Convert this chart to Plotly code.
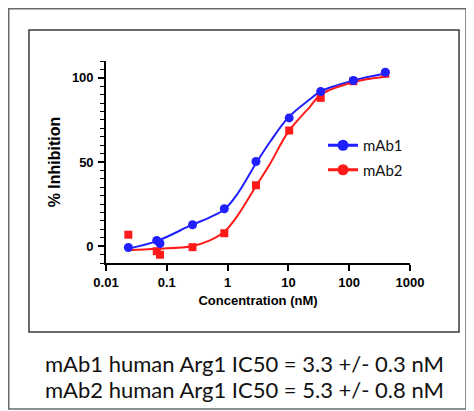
import plotly.graph_objects as go

# ---- data ----
conc = [0.0233, 0.0683, 0.0773, 0.265, 0.883, 2.93, 10.3, 34, 117, 393]
mab1 = [-0.8, 3.4, 1.6, 12.7, 22.2, 50.3, 76.2, 91.9, 98.4, 103.3]
mab2 = [6.8, -3.0, -5.1, -0.6, 7.7, 36.2, 68.7, 88.1, 98.0, 102.4]

curve_x = [0.0233, 0.0683, 0.257, 0.5, 0.883, 1.45, 2.97, 5, 10, 22.6, 34, 117, 393]
curve_mab1 = [-1.4, 3.0, 12.6, 17.0, 21.8, 31.0, 49.5, 62.0, 76.5, 87.3, 92.0, 98.4, 102.6]
curve_mab2 = [-2.4, -1.5, 0.0, 3.3, 8.6, 18.0, 36.0, 49.0, 68.0, 82.8, 90.0, 97.4, 100.6]

x_ticks = [0.01, 0.1, 1, 10, 100, 1000]
x_ticklabels = ["0.01", "0.1", "1", "10", "100", "1000"]
y_ticks = [0, 50, 100]

names = ["mAb1", "mAb2"]
captions = ["mAb1 human Arg1 IC50 = 3.3 +/- 0.3 nM",
            "mAb2 human Arg1 IC50 = 5.3 +/- 0.8 nM"]

BLUE = "#1f1fff"
RED = "#ff1a1a"

OFF = 8  # page offset of the figure (browser body margin)
W, H = 474 - OFF, 411 - OFF
L, R, T = 106 - OFF, 64, 61 - OFF
B = H - (263 - OFF)
PW, PH = W - L - R, H - T - B


def px(x):  # page pixel -> paper
    return (x - OFF - L) / PW


def py(y):
    return (H - B - (y - OFF)) / PH


fig = go.Figure()

# fitted curves
fig.add_trace(go.Scatter(x=curve_x, y=curve_mab1, mode="lines", line=dict(color=BLUE, width=2, shape="spline"),
                         showlegend=False, hoverinfo="skip"))
fig.add_trace(go.Scatter(x=curve_x, y=curve_mab2, mode="lines", line=dict(color=RED, width=2, shape="spline"),
                         showlegend=False, hoverinfo="skip"))
# data points
fig.add_trace(go.Scatter(x=conc, y=mab2, mode="markers", marker=dict(symbol="square", size=8, color=RED),
                         showlegend=False))
fig.add_trace(go.Scatter(x=conc, y=mab1, mode="markers", marker=dict(symbol="circle", size=9, color=BLUE),
                         showlegend=False))
# legend entries
for nm, col, g in [(names[0], BLUE, "a"), (names[1], RED, "b")]:
    fig.add_trace(go.Scatter(x=[None], y=[None], mode="lines+markers", name=nm, legendgroup=g,
                             line=dict(color=col, width=3), marker=dict(symbol="circle", size=11, color=col)))

# frames
fig.add_shape(type="rect", xref="paper", yref="paper", x0=px(OFF + 0.75), x1=px(466), y0=py(409),
              y1=py(OFF + 0.75), line=dict(color="#6a6a6a", width=1.5), layer="below")
fig.add_shape(type="rect", xref="paper", yref="paper", x0=px(29), x1=px(459), y0=py(332), y1=py(30),
              line=dict(color="#3a3a3a", width=1.5), layer="below")

for cap, yy in zip(captions, [363, 389.5]):
    fig.add_annotation(text=cap, xref="paper", yref="paper", x=px(244), y=py(yy), xanchor="center",
                       yanchor="middle", showarrow=False,
                       font=dict(family="Lato", size=22, color="#111111"))

axis_font = dict(family="Liberation Sans", size=13, color="black", weight="bold")

fig.update_xaxes(type="log", range=[-2, 3], tickvals=x_ticks, ticktext=x_ticklabels,
                 showgrid=False, zeroline=False, showline=True, linecolor="black", linewidth=1.6,
                 ticks="outside", ticklen=6, tickwidth=1.6, tickcolor="black",
                 tickfont=axis_font, ticklabelstandoff=1,
                 title=dict(text="Concentration (nM)", font=axis_font, standoff=6))
fig.update_yaxes(range=[-10, 110], tickvals=y_ticks,
                 showgrid=False, zeroline=False, showline=True, linecolor="black", linewidth=1.6,
                 ticks="outside", ticklen=6, tickwidth=1.6, tickcolor="black",
                 minor=dict(tickvals=[v for v in range(-10, 111, 5) if v % 50 != 0], ticks="outside",
                            ticklen=4, tickwidth=1.2, tickcolor="black"),
                 tickfont=axis_font, ticklabelstandoff=2,
                 title=dict(text="% Inhibition", font=dict(family="Liberation Sans", size=16, color="black",
                                                          weight="bold"), standoff=7))

fig.update_layout(
    width=W, height=H,
    margin=dict(l=L, r=R, t=T, b=B),
    paper_bgcolor="white", plot_bgcolor="white",
    showlegend=True,
    legend=dict(x=px(323), y=py(129), xanchor="left", yanchor="top", bgcolor="rgba(0,0,0,0)",
                font=dict(family="Lato", size=15, color="#111111"), traceorder="grouped",
                tracegroupgap=2, itemwidth=30),
)

fig.write_html("out.html")
